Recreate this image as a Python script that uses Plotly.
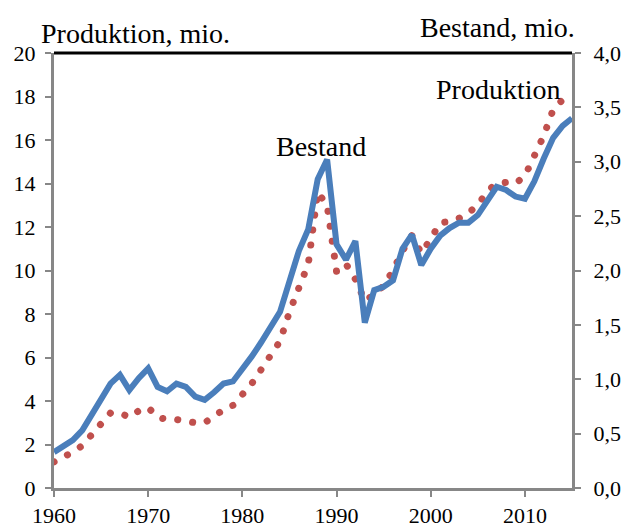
import plotly.graph_objects as go

years_bestand = list(range(1960, 2016))
bestand = [0.33, 0.39, 0.44, 0.53, 0.67, 0.82, 0.96, 1.04, 0.90, 1.01,
           1.10, 0.93, 0.89, 0.96, 0.93, 0.84, 0.81, 0.88, 0.96, 0.98,
           1.09, 1.21, 1.34, 1.49, 1.62, 1.90, 2.18, 2.38, 2.84, 3.02,
           2.24, 2.10, 2.27, 1.52, 1.82, 1.85, 1.91, 2.20, 2.33, 2.05,
           2.20, 2.32, 2.39, 2.44, 2.44, 2.51, 2.64, 2.77, 2.74, 2.68,
           2.66, 2.82, 3.03, 3.22, 3.33, 3.40]

years_produktion = list(range(1960, 2015))
produktion = [1.2, 1.4, 1.65, 1.95, 2.45, 3.0, 3.45, 3.45, 3.25, 3.55,
              3.7, 3.25, 3.15, 3.15, 3.05, 3.0, 3.0, 3.3, 3.6, 3.8,
              4.25, 4.8, 5.45, 6.1, 6.75, 8.1, 9.2, 10.3, 13.6, 13.0,
              9.95, 10.3, 9.6, 8.6, 8.9, 9.3, 10.0, 10.9, 11.6, 10.8,
              11.45, 12.2, 12.25, 12.4, 12.65, 13.0, 13.65, 14.0, 14.05, 14.0,
              14.35, 15.2, 16.2, 17.4, 17.85]

x_ticks = [1960, 1970, 1980, 1990, 2000, 2010]

BLUE = "rgb(74,126,187)"
RED = "rgb(192,80,77)"
GRAY = "#878787"
FONT = "Liberation Serif"

fig = go.Figure()
fig.add_trace(go.Scatter(
    x=years_produktion, y=produktion, mode="lines", name="Produktion",
    line=dict(color=RED, width=7, dash="7px,8px"), yaxis="y",
))
fig.add_trace(go.Scatter(
    x=years_bestand, y=bestand, mode="lines", name="Bestand",
    line=dict(color=BLUE, width=6), yaxis="y2",
))

axis_common = dict(
    showgrid=False, zeroline=False, showline=True, linecolor=GRAY, linewidth=3,
    ticks="outside", ticklen=6, tickwidth=2, tickcolor=GRAY, automargin=False,
    tickfont=dict(family=FONT, size=22, color="black"),
)

fig.update_layout(
    width=626, height=530,
    margin=dict(l=54, r=54, t=53, b=42),
    paper_bgcolor="white", plot_bgcolor="white",
    showlegend=False,
    separators=",.",
    font=dict(family=FONT, color="black"),
    xaxis=dict(range=[1960, 2015], tickvals=x_ticks, **axis_common),
    yaxis=dict(range=[0, 20], dtick=2, ticklabelstandoff=5, **axis_common),
    yaxis2=dict(range=[0, 4], dtick=0.5, tickformat=".1f", overlaying="y",
                side="right", ticklabelstandoff=8, **axis_common),
    shapes=[dict(type="line", xref="paper", yref="paper", x0=0, x1=1, y0=1, y1=1,
                 line=dict(color="black", width=3))],
    annotations=[
        dict(text="Produktion, mio.", xref="paper", yref="paper",
             x=-15 / 518, y=1, xanchor="left", yanchor="bottom", yshift=2,
             showarrow=False, font=dict(family=FONT, size=28)),
        dict(text="Bestand, mio.", xref="paper", yref="paper",
             x=1 + 5 / 518, y=1, xanchor="right", yanchor="bottom", yshift=8,
             showarrow=False, font=dict(family=FONT, size=28)),
        dict(text="Bestand", xref="x", yref="y", x=1988.3, y=15.7,
             showarrow=False, font=dict(family=FONT, size=28)),
        dict(text="Produktion", xref="x", yref="y", x=2007.1, y=18.3,
             showarrow=False, font=dict(family=FONT, size=28)),
    ],
)

post = """
document.body.style.margin = '0';
document.body.style.padding = '0';
document.querySelectorAll('path.js-line').forEach(function(p){
  if ((p.style.stroke || '').indexOf('192, 80, 77') >= 0) {
    p.style.strokeLinecap = 'round';
    p.style.strokeDasharray = '0.1px 15px';
  }
});
"""
fig.write_html("out.html", post_script=post, config={"displayModeBar": False})
